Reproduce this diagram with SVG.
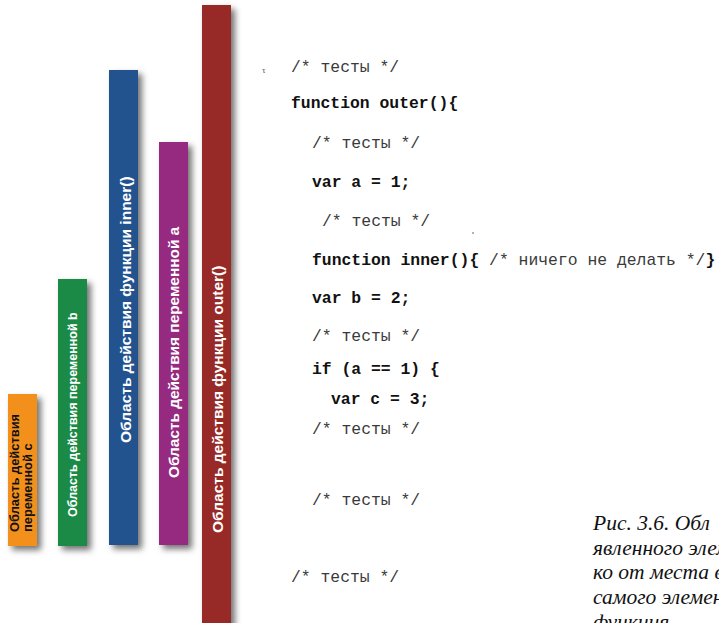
<svg xmlns="http://www.w3.org/2000/svg" width="719" height="623" viewBox="0 0 719 623">
<defs>
<filter id="sh" x="-50%" y="-10%" width="200%" height="120%">
<feDropShadow dx="4" dy="4" stdDeviation="3" flood-color="#000" flood-opacity="0.55"/>
</filter>
</defs>
<style>
.bar{filter:url(#sh)}
.bt{font-family:"Liberation Sans",Arial,sans-serif;font-weight:bold;fill:#fff}
.code{font-family:"Liberation Mono","Courier New",monospace;font-size:16.4px;fill:#111;font-weight:bold}
.cm{font-family:"Liberation Mono","Courier New",monospace;font-size:16.4px;fill:#3a3a3a}
.cap{font-family:"Liberation Serif","Times New Roman",serif;font-style:italic;font-size:21.5px;fill:#111}
</style>
<rect width="719" height="623" fill="#fff"/>
<g id="scope-c">
<rect class="bar" x="8" y="394" width="29" height="152" fill="#F3901A"/>
<text class="bt" style="fill:#111" font-size="12.9" transform="translate(19,532) rotate(-90)">Область действия</text>
<text class="bt" style="fill:#111" font-size="12.9" transform="translate(31.5,532) rotate(-90)">переменной с</text>
</g>
<g id="scope-b">
<rect class="bar" x="58" y="279" width="29" height="267" fill="#1B8A46"/>
<text class="bt" font-size="12.5" transform="translate(77,517) rotate(-90)">Область действия переменной b</text>
</g>
<g id="scope-inner">
<rect class="bar" x="109" y="70" width="29" height="475" fill="#22528F"/>
<text class="bt" font-size="15.5" transform="translate(130.5,443) rotate(-90)">Область действия функции inner()</text>
</g>
<g id="scope-a">
<rect class="bar" x="159" y="142" width="29" height="403" fill="#952A80"/>
<text class="bt" font-size="15.4" transform="translate(179,478) rotate(-90)">Область действия переменной а</text>
</g>
<g id="scope-outer">
<rect class="bar" x="202" y="5" width="29" height="625" fill="#972A28"/>
<text class="bt" font-size="15.5" transform="translate(222.5,533) rotate(-90)">Область действия функции outer()</text>
</g>
<g id="code">
<text x="262" y="73" font-family="Liberation Serif,serif" font-size="9" fill="#555">τ</text>
<circle cx="473" cy="233" r="1" fill="#999"/>
<text class="cm" x="291" y="72">/* тесты */</text>
<text class="code" x="291" y="108">function outer(){</text>
<text class="cm" x="312" y="148">/* тесты */</text>
<text class="code" x="312" y="187">var a = 1;</text>
<text class="cm" x="322" y="226">/* тесты */</text>
<text x="312" y="265"><tspan class="code">function inner(){</tspan><tspan class="cm"> /* ничего не делать */</tspan><tspan class="code">}</tspan></text>
<text class="code" x="312" y="303">var b = 2;</text>
<text class="cm" x="312" y="341">/* тесты */</text>
<text class="code" x="312" y="374">if (a == 1) {</text>
<text class="code" x="331" y="404">var c = 3;</text>
<text class="cm" x="312" y="434">/* тесты */</text>
<text class="cm" x="312" y="505">/* тесты */</text>
<text class="cm" x="291" y="582">/* тесты */</text>
</g>
<g id="caption">
<text class="cap" x="593" y="530">Рис. 3.6. Обл</text>
<text class="cap" x="593" y="555">явленного элем</text>
<text class="cap" x="593" y="579">ко от места в</text>
<text class="cap" x="593" y="604">самого элемен</text>
<text class="cap" x="593" y="629">функция</text>
</g>
</svg>
